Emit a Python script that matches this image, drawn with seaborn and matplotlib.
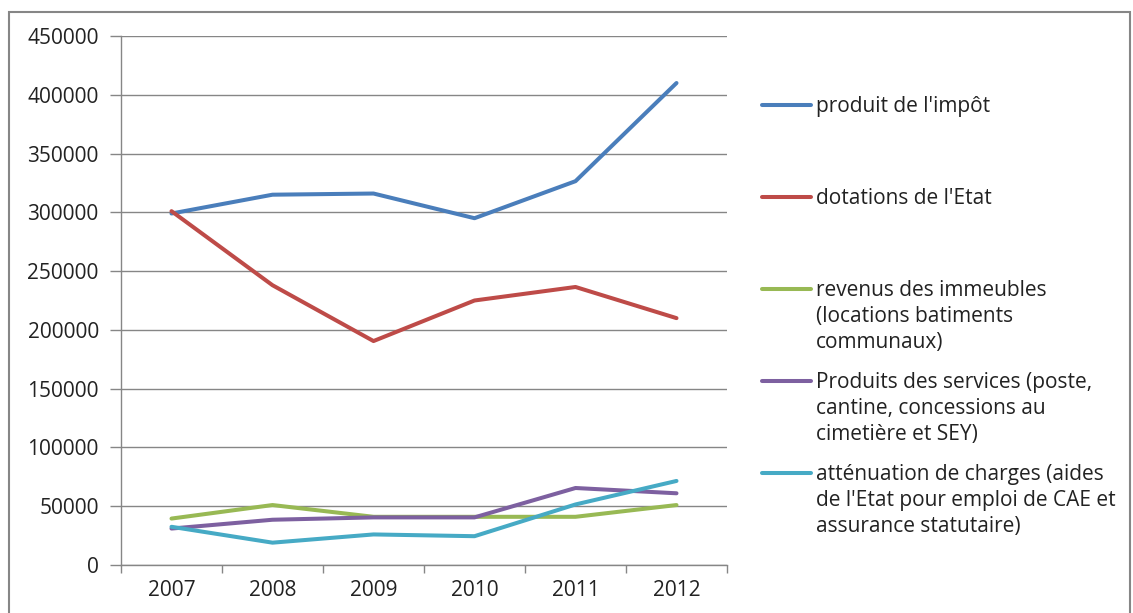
import numpy as np
import pandas as pd
import matplotlib.pyplot as plt
import seaborn as sns
from matplotlib.lines import Line2D
from matplotlib.patches import Rectangle

years = [2007, 2008, 2009, 2010, 2011, 2012]
impot = [299000, 315000, 316000, 295000, 326500, 410000]
dotations = [301000, 238000, 190500, 225000, 236500, 210000]
immeubles = [39500, 51000, 41000, 41000, 41000, 51000]
services = [31000, 38500, 40500, 40500, 65500, 61000]
attenuation = [32500, 19000, 26000, 24500, 51500, 71500]

labels = ["produit de l'impôt",
          "dotations de l'Etat",
          "revenus des immeubles\n(locations batiments\ncommunaux)",
          "Produits des services (poste,\ncantine, concessions au\ncimetière et SEY)",
          "atténuation de charges (aides\nde l'Etat pour emploi de CAE et\nassurance statutaire)"]
colors = ['#4A7EBB', '#BE4B48', '#98B954', '#7D60A0', '#46AAC5']

series = [impot, dotations, immeubles, services, attenuation]
df = pd.DataFrame({
    'annee': years * len(series),
    'valeur': [v for s in series for v in s],
    'serie': [lab for lab in labels for _ in years],
})

sns.set_style('white')
plt.rcParams['font.family'] = ['Open Sans', 'DejaVu Sans']

fig = plt.figure(figsize=(11.33, 6.13), dpi=100)
ax = fig.add_axes([121/1133, 1 - 565/613, (727-121)/1133, (565-36)/613])

sns.lineplot(data=df, x='annee', y='valeur', hue='serie', hue_order=labels,
             palette=dict(zip(labels, colors)), linewidth=2.9, legend=False, ax=ax)

# axes Excel style
ax.set_xlim(2006.5, 2012.5)
ax.set_ylim(0, 450000)
ax.set_yticks(np.arange(0, 450001, 50000))
ax.set_yticklabels([str(v) for v in range(0, 450001, 50000)])
ax.set_xticks(np.arange(2006.5, 2013, 1))
ax.set_xticklabels([])
ax.set_xticks(years, minor=True)
ax.set_xticklabels([str(y) for y in years], minor=True)
ax.tick_params(axis='x', which='major', length=6, width=1, color='#868686', direction='out', bottom=True)
ax.tick_params(axis='x', which='minor', length=0, labelsize=15, pad=11, colors='#222222')
ax.tick_params(axis='y', length=8, width=1, color='#868686', direction='out', left=True,
               labelsize=15, pad=8, labelcolor='#222222')
ax.grid(axis='y', color='#868686', linewidth=1)
ax.set_axisbelow(True)
for side in ['top', 'right']:
    ax.spines[side].set_visible(False)
for side in ['left', 'bottom']:
    ax.spines[side].set_color('#868686')
    ax.spines[side].set_linewidth(1)
ax.set_xlabel('')
ax.set_ylabel('')

# legend drawn Excel-like: marker on the first line of each label
W, H = 1133, 613
ys = [105, 197, 289, 381, 473]
for lab, col, yy in zip(labels, colors, ys):
    fig.add_artist(Line2D([762/W, 811/W], [1 - yy/H, 1 - yy/H], color=col,
                          linewidth=2.9, solid_capstyle='round'))
    fig.text(816/W, 1 - (yy - 9)/H, lab, fontsize=15, va='top', ha='left',
             color='#222222', linespacing=1.3)

# chart area frame
fig.add_artist(Rectangle((9/W, -0.05), (W - 12)/W, 1.05 - 12/H, transform=fig.transFigure,
                         fill=False, edgecolor='#868686', linewidth=1.5))

fig.savefig('out.png', dpi=100)
